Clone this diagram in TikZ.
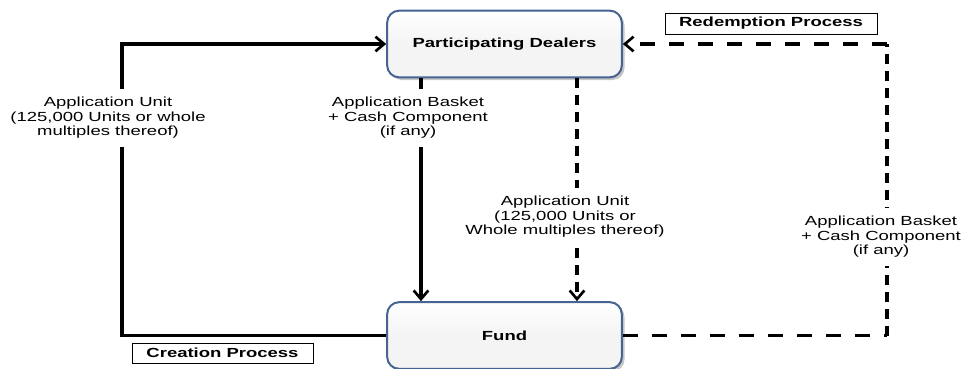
\documentclass[tikz,border=0pt]{standalone}
\usepackage{fontspec}
\setmainfont{Liberation Sans}[FakeStretch=1.4]
\usetikzlibrary{arrows.meta,shadows}

\definecolor{boxedge}{RGB}{70,100,145}
\definecolor{boxfill}{RGB}{244,244,244}

\begin{document}
\begin{tikzpicture}[x=0.75pt,y=-0.75pt,
  txt/.style={font=\fontsize{9.9pt}{10.9pt}\selectfont},
  entity/.style={draw=boxedge, line width=1.5pt, rounded corners=9pt,
    top color=white, bottom color=boxfill, middle color=boxfill,
    minimum width=176pt, minimum height=50pt,
    drop shadow={shadow xshift=2pt, shadow yshift=-2pt, opacity=0.45, fill=gray},
    txt, font=\fontsize{9.9pt}{10.9pt}\selectfont\bfseries},
  tag/.style={draw=black, line width=0.6pt, fill=white, inner sep=0pt,
    font=\fontsize{9.9pt}{10.9pt}\selectfont\bfseries},
  lbl/.style={txt, align=center, fill=white, inner xsep=3pt, inner ysep=6pt},
  flow/.style={line width=2.3pt},
  tip/.style={-{Straight Barb[length=6.5pt,width=11pt,line width=2pt]}},
  hdash/.style={flow, dash pattern=on 11.25pt off 10.5pt},
  vdash/.style={flow, dash pattern=on 7.5pt off 5.25pt}
]
\useasboundingbox (0,0) rectangle (968,368);

% the two parties
\node[entity] (dealers) at (504.5,44) {Participating Dealers};
\node[entity] (fund) at (504.5,335.5) {Fund};

% process captions
\node[tag, minimum width=135.75pt, minimum height=15pt] (creation) at (222.5,353) {Creation Process};
\node[tag, minimum width=159pt, minimum height=15.75pt] (redemption) at (771,23.5) {Redemption Process};

% route corners and columns
\coordinate (lb) at (122,335.5);
\coordinate (lt) at (122,44);
\coordinate (rb) at (887,335.5);
\coordinate (rt) at (887,44);
\coordinate (xa) at (421,0);
\coordinate (xb) at (577,0);

% creation: solid flows
\draw[flow, tip, line join=miter] (fund.west) -- (lb) -- (lt) -- (dealers.west);
\draw[flow, tip] (dealers.south -| xa) -- (fund.north -| xa);

% redemption: dashed flows
\draw[vdash, tip] (dealers.south -| xb) -- (fund.north -| xb);
\draw[hdash] (fund.east) -- (rb);
\draw[vdash] (rb) -- (rt);
\draw[hdash, tip] (rt) -- (dealers.east);

% flow labels
\node[lbl] (unitsin) at (108,118) {Application Unit\\(125,000 Units or whole\\multiples thereof)};
\node[lbl] (basketin) at (408,118) {Application Basket\\+ Cash Component\\(if any)};
\node[lbl] (unitsout) at (565,217) {Application Unit\\(125,000 Units or\\Whole multiples thereof)};
\node[lbl] (basketout) at (881,237) {Application Basket\\+ Cash Component\\(if any)};
\end{tikzpicture}
\end{document}
